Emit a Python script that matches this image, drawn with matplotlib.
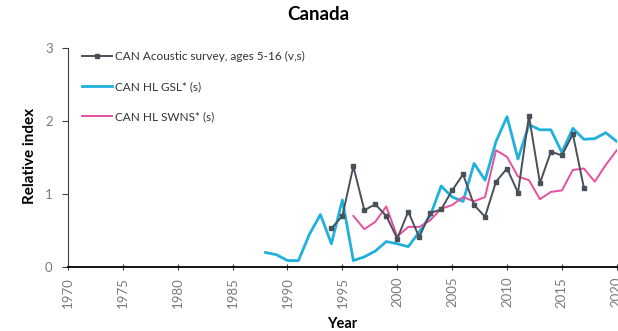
import numpy as np
import matplotlib.pyplot as plt

# data
acoustic_years = list(range(1994, 2018))
acoustic_vals = [0.53, 0.70, 1.38, 0.78, 0.86, 0.70, 0.39, 0.76, 0.41, 0.74, 0.79,
                 1.05, 1.27, 0.85, 0.69, 1.17, 1.35, 1.02, 2.07, 1.15, 1.58, 1.53,
                 1.82, 1.09]

gsl_years = list(range(1988, 2021))
gsl_vals = [0.20, 0.17, 0.09, 0.09, 0.45, 0.72, 0.32, 0.92, 0.09, 0.14, 0.22,
            0.35, 0.32, 0.28, 0.48, 0.70, 1.11, 0.96, 0.90, 1.42, 1.19, 1.72,
            2.06, 1.48, 1.95, 1.88, 1.88, 1.57, 1.90, 1.75, 1.76, 1.84, 1.72]

swns_years = list(range(1996, 2021))
swns_vals = [0.70, 0.52, 0.62, 0.83, 0.42, 0.55, 0.55, 0.64, 0.80, 0.85, 0.96,
             0.90, 0.96, 1.60, 1.51, 1.24, 1.19, 0.93, 1.03, 1.05, 1.33, 1.35,
             1.17, 1.40, 1.60]

labels = ['CAN Acoustic survey, ages 5-16 (v,s)', 'CAN HL GSL* (s)', 'CAN HL SWNS* (s)']

plt.rcParams['font.family'] = ['Lato', 'DejaVu Sans']

fig = plt.figure(figsize=(6.18, 3.31), dpi=100)
ax = fig.add_axes([0.110, 0.193, 0.888, 0.662])

ax.plot(acoustic_years, acoustic_vals, color='#48505a', lw=1.4, marker='s',
        markersize=3.5, label=labels[0], zorder=3)
ax.plot(gsl_years, gsl_vals, color='#1fb0dc', lw=2.0, label=labels[1], zorder=2)
ax.plot(swns_years, swns_vals, color='#e4509f', lw=1.4, label=labels[2], zorder=2)

ax.set_xlim(1970, 2020)
ax.set_ylim(0, 3)
ax.set_xticks(np.arange(1970, 2021, 5))
ax.set_yticks([0, 1, 2, 3])
ax.tick_params(axis='x', rotation=90, labelsize=9.5, labelcolor='#7a7a7a',
               length=4, direction='inout', color='#404040', pad=5)
ax.tick_params(axis='y', labelsize=9.5, labelcolor='#7a7a7a', length=4,
               color='#404040', pad=7)

for s in ['top', 'right']:
    ax.spines[s].set_visible(False)
ax.spines['bottom'].set_linewidth(1.3)
ax.spines['left'].set_color('#404040')

fig.text(0.515, 0.955, 'Canada', fontsize=13.5, fontweight='bold',
         ha='center', va='center')
ax.set_ylabel('Relative index', fontsize=11, fontweight='bold', va='center')
ax.yaxis.set_label_coords(-0.069, 0.507)
ax.set_xlabel('Year', fontsize=10.5, fontweight='bold', va='center')
ax.xaxis.set_label_coords(0.5, -0.26)

leg = ax.legend(loc='upper left', bbox_to_anchor=(0.025, 0.985), frameon=False,
                fontsize=8.5, handlelength=2.6, handletextpad=0.25,
                labelspacing=1.6, borderpad=0, borderaxespad=0)
for t in leg.get_texts():
    t.set_color('#333333')

fig.savefig('out.png', dpi=100)
